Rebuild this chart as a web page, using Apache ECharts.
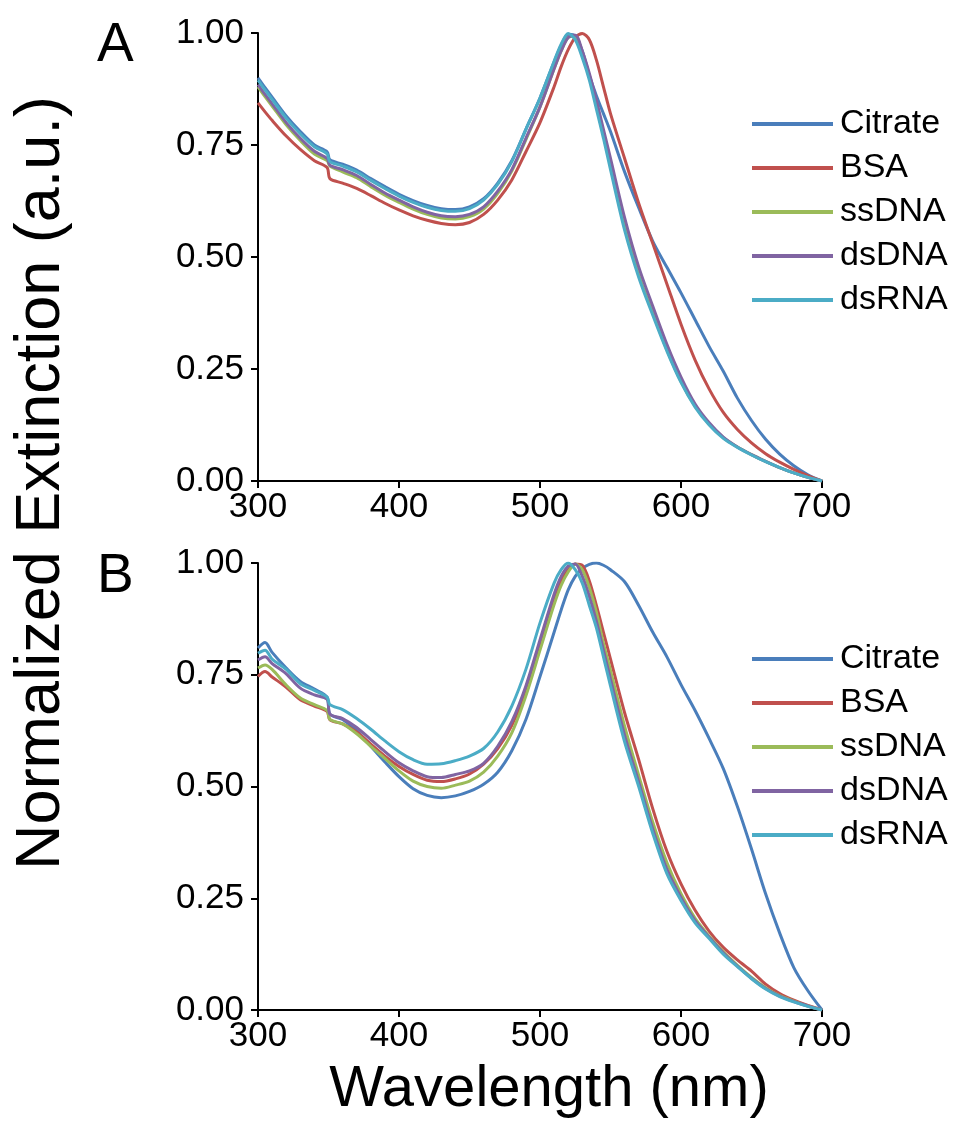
<!DOCTYPE html>
<html>
<head>
<meta charset="utf-8">
<script src="https://cdn.jsdelivr.net/npm/echarts@6/dist/echarts.min.js"></script>
<style>
  html, body { margin: 0; padding: 0; background: #fff; }
  #chart { width: 961px; height: 1133px; }
</style>
</head>
<body>
<div id="chart"></div>
<script>
// wavelengths (nm)
const wavelengths = [300,305,310,320,330,340,349,351,360,370,380,390,400,410,420,430,440,450,460,470,480,490,500,510,515,520,525,530,535,540,545,550,560,570,580,590,600,610,620,630,640,650,660,670,680,690,700];

const seriesNames = ['Citrate', 'BSA', 'ssDNA', 'dsDNA', 'dsRNA'];
const seriesColors = ['#4a7ebb', '#c0504d', '#9bbb59', '#8064a2', '#4bacc6'];
const yTicks = [0, 0.25, 0.5, 0.75, 1];
const xTicks = [300, 400, 500, 600, 700];

// panel A
const citrateA = [.90,.878,.857,.815,.78,.75,.735,.717,.707,.694,.675,.657,.64,.626,.615,.608,.606,.612,.63,.665,.715,.785,.855,.935,.972,.997,.993,.96,.905,.86,.82,.78,.69,.61,.535,.477,.42,.36,.30,.245,.185,.135,.093,.06,.034,.014,0];
const bsaA = [.844,.824,.805,.77,.74,.715,.70,.675,.665,.653,.637,.62,.605,.592,.582,.575,.572,.577,.595,.627,.672,.735,.80,.88,.925,.963,.99,.999,.985,.94,.88,.82,.72,.62,.53,.44,.35,.27,.205,.153,.115,.085,.061,.042,.026,.012,0];
const ssdnaA = [.88,.858,.837,.795,.76,.73,.715,.703,.69,.677,.657,.638,.622,.607,.595,.587,.585,.59,.607,.642,.692,.762,.835,.92,.96,.99,.993,.955,.903,.84,.775,.705,.57,.46,.375,.293,.222,.167,.127,.097,.076,.059,.044,.03,.018,.008,0];
const dsdnaA = [.885,.863,.842,.80,.765,.736,.72,.705,.695,.682,.662,.643,.627,.612,.60,.592,.59,.595,.612,.647,.695,.765,.835,.92,.96,.99,.995,.96,.91,.85,.785,.72,.588,.478,.39,.305,.232,.172,.13,.098,.076,.059,.044,.03,.018,.008,0];
const dsrnaA = [.895,.873,.852,.81,.775,.746,.73,.713,.703,.69,.671,.653,.636,.622,.611,.604,.602,.608,.627,.662,.713,.785,.855,.937,.975,.999,.985,.945,.895,.83,.765,.695,.56,.455,.37,.29,.22,.165,.125,.095,.075,.058,.043,.03,.018,.008,0];

// panel B
const citrateB = [.81,.822,.80,.765,.735,.718,.70,.662,.65,.625,.59,.555,.522,.495,.48,.475,.479,.489,.505,.532,.58,.65,.746,.845,.895,.94,.97,.988,.997,1.0,.995,.985,.958,.905,.845,.79,.728,.67,.607,.54,.455,.36,.26,.172,.095,.043,0];
const bsaB = [.746,.757,.745,.722,.694,.68,.668,.649,.64,.622,.595,.568,.545,.527,.514,.511,.517,.528,.55,.585,.637,.715,.82,.92,.96,.985,.998,.995,.96,.905,.845,.785,.665,.56,.45,.355,.282,.223,.176,.14,.112,.087,.058,.037,.022,.01,0];
const ssdnaB = [.765,.772,.762,.727,.698,.683,.67,.65,.64,.618,.59,.563,.535,.512,.50,.496,.503,.512,.532,.568,.62,.703,.805,.907,.95,.98,.998,.985,.945,.89,.82,.76,.635,.525,.42,.33,.26,.205,.165,.13,.10,.073,.05,.032,.02,.009,0];
const dsdnaB = [.783,.79,.775,.752,.72,.705,.695,.662,.652,.632,.605,.578,.553,.535,.522,.52,.527,.535,.552,.59,.645,.725,.828,.93,.97,.993,.998,.97,.925,.87,.805,.74,.615,.51,.405,.315,.252,.20,.163,.128,.098,.071,.048,.031,.019,.009,0];
const dsrnaB = [.798,.805,.785,.762,.73,.715,.70,.683,.672,.652,.628,.602,.578,.56,.55,.551,.558,.568,.585,.622,.68,.762,.866,.955,.985,1.0,.985,.955,.905,.855,.79,.725,.60,.50,.395,.305,.245,.195,.16,.125,.097,.07,.047,.03,.018,.008,0];

const panelA = [citrateA, bsaA, ssdnaA, dsdnaA, dsrnaA];
const panelB = [citrateB, bsaB, ssdnaB, dsdnaB, dsrnaB];

const FONT = '"Liberation Sans", Arial, sans-serif';

function makeXAxis(gridIndex) {
  return {
    type: 'value', gridIndex: gridIndex,
    min: xTicks[0], max: xTicks[xTicks.length - 1], interval: 100,
    axisLine: { lineStyle: { color: '#000', width: 2 } },
    axisTick: { length: 7, lineStyle: { color: '#000', width: 2 } },
    axisLabel: { color: '#000', fontSize: 35, fontFamily: FONT, margin: 9 },
    splitLine: { show: false }
  };
}
function makeYAxis(gridIndex) {
  return {
    type: 'value', gridIndex: gridIndex,
    min: yTicks[0], max: yTicks[yTicks.length - 1], interval: 0.25,
    axisLine: { show: true, lineStyle: { color: '#000', width: 2 } },
    axisTick: { show: true, length: 7, lineStyle: { color: '#000', width: 2 } },
    axisLabel: { color: '#000', fontSize: 35, fontFamily: FONT, margin: 14,
      formatter: function (v) { return v.toFixed(2); } },
    splitLine: { show: false }
  };
}

const series = [];
[panelA, panelB].forEach(function (panel, p) {
  panel.forEach(function (vals, i) {
    series.push({
      name: seriesNames[i],
      type: 'line',
      xAxisIndex: p, yAxisIndex: p,
      data: wavelengths.map(function (w, k) { return [w, vals[k]]; }),
      symbol: 'none',
      smooth: 0.3,
      color: seriesColors[i],
      lineStyle: { width: 3, color: seriesColors[i] }
    });
  });
});

function makeLegend(top) {
  return {
    data: seriesNames, orient: 'vertical', left: 752, top: top, padding: 0,
    icon: 'rect', itemWidth: 81, itemHeight: 4, itemGap: 8,
    selectedMode: false,
    textStyle: { color: '#000', fontSize: 34, fontFamily: FONT, lineHeight: 36, padding: [0, 0, 0, 2] }
  };
}

const chart = echarts.init(document.getElementById('chart'));
chart.setOption({
  animation: false,
  backgroundColor: '#fff',
  grid: [
    { left: 258, top: 33, width: 564, height: 448 },
    { left: 258, top: 563, width: 564, height: 447 }
  ],
  xAxis: [makeXAxis(0), makeXAxis(1)],
  yAxis: [makeYAxis(0), makeYAxis(1)],
  legend: [makeLegend(106), makeLegend(641)],
  graphic: [
    { type: 'text', left: 97, top: 18, style: { text: 'A', font: '55px ' + FONT, fill: '#000' } },
    { type: 'text', left: 97, top: 549, style: { text: 'B', font: '55px ' + FONT, fill: '#000' } },
    { type: 'text', x: 42, y: 483, rotation: Math.PI / 2,
      style: { text: 'Normalized Extinction (a.u.)', font: '63px ' + FONT, fill: '#000',
        textAlign: 'center', textVerticalAlign: 'middle' } },
    { type: 'text', x: 549, y: 1090,
      style: { text: 'Wavelength (nm)', font: '58px ' + FONT, fill: '#000',
        textAlign: 'center', textVerticalAlign: 'middle' } }
  ],
  series: series
});
</script>
</body>
</html>
